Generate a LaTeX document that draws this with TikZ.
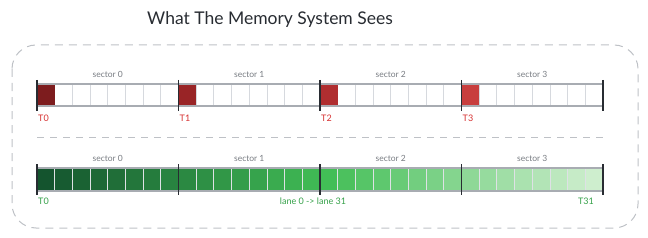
\documentclass[tikz,border=0pt]{standalone}
\usepackage{fontspec}
\setmainfont{Lato}
\usepackage{xcolor}
\usetikzlibrary{positioning}
\definecolor{MemInk}{RGB}{40,44,50}
\definecolor{MemGray}{RGB}{120,124,130}
\definecolor{MemLine}{RGB}{168,172,178}
\definecolor{MemCell}{RGB}{214,217,222}
\definecolor{MemDash}{RGB}{190,193,198}
\definecolor{RedA}{RGB}{125,28,30}
\definecolor{RedB}{RGB}{153,36,38}
\definecolor{RedC}{RGB}{176,46,48}
\definecolor{RedD}{RGB}{200,62,62}
\definecolor{RedText}{RGB}{214,48,48}
\definecolor{GrnDark}{RGB}{20,84,46}
\definecolor{GrnMid}{RGB}{66,190,86}
\definecolor{GrnLight}{RGB}{206,238,206}
\definecolor{GrnText}{RGB}{52,160,72}

\tikzset{
  cellbox/.style={draw=MemCell, line width=0.8pt},
  barbox/.style={draw=MemLine, line width=1.1pt},
  sectortick/.style={draw=MemInk, line width=1.2pt},
  sectorlabel/.style={font=\fontsize{8.5}{10}\selectfont, text=MemGray},
  lanelabel/.style={font=\fontsize{9}{11}\selectfont, inner sep=0pt}
}

\begin{document}
\begin{tikzpicture}[x=1pt, y=-1pt]
  \useasboundingbox (0,0) rectangle (648,238);
  \def\cw{17.6875}
  \def\sw{141.5}

  % Title
  \node[font=\fontsize{17.5}{21}\selectfont, text=MemInk] (title) at (270,20)
        {What The Memory System Sees};

  % Outer frame
  \draw[MemDash, line width=1pt, rounded corners=24pt, dash pattern=on 8pt off 6pt]
    (12,45) rectangle (638,228);

  % Scattered access: one cell per sector
  \foreach \i in {0,...,31} {
    \draw[cellbox, fill=white] ({37+\i*\cw},84) rectangle ++(\cw,22);
  }
  \foreach \s/\c in {0/RedA, 1/RedB, 2/RedC, 3/RedD} {
    \fill[\c] ({37+\s*\sw},84) rectangle ++(\cw,22);
    \node[sectorlabel] (sa\s) at ({37+\s*\sw+\sw/2},74) {sector \s};
    \node[lanelabel, text=RedText, anchor=west] (ta\s) at ({38+\s*\sw},118) {T\s};
  }
  \draw[barbox] (37,84) rectangle (603,106);
  \foreach \s in {0,...,4} {
    \draw[sectortick] ({37+\s*\sw},80) -- ++(0,31);
  }

  % Separator
  \draw[MemDash, line width=1pt, dash pattern=on 7pt off 6pt] (37,137) -- (603,137);

  % Coalesced access: every lane in a row
  \foreach \i in {0,...,31} {
    \ifnum\i<16
      \pgfmathtruncatemacro\p{100-\i*100/16}
      \colorlet{cellfill}{GrnDark!\p!GrnMid}
    \else
      \pgfmathtruncatemacro\p{100-(\i-16)*100/15}
      \colorlet{cellfill}{GrnMid!\p!GrnLight}
    \fi
    \draw[cellbox, draw=MemCell!80, fill=cellfill] ({37+\i*\cw},168) rectangle ++(\cw,23);
  }
  \foreach \s in {0,...,3} {
    \node[sectorlabel] (sb\s) at ({37+\s*\sw+\sw/2},158) {sector \s};
  }
  \draw[barbox] (37,168) rectangle (603,191);
  \foreach \s in {0,...,4} {
    \draw[sectortick] ({37+\s*\sw},164) -- ++(0,31);
  }
  \node[lanelabel, text=GrnText, anchor=west] (tb0) at (38,201) {T0};
  \node[lanelabel, text=GrnText] (lanes) at (313,201) {lane 0 -> lane 31};
  \node[lanelabel, text=GrnText, anchor=east] (tb31) at (594,201) {T31};
\end{tikzpicture}
\end{document}
